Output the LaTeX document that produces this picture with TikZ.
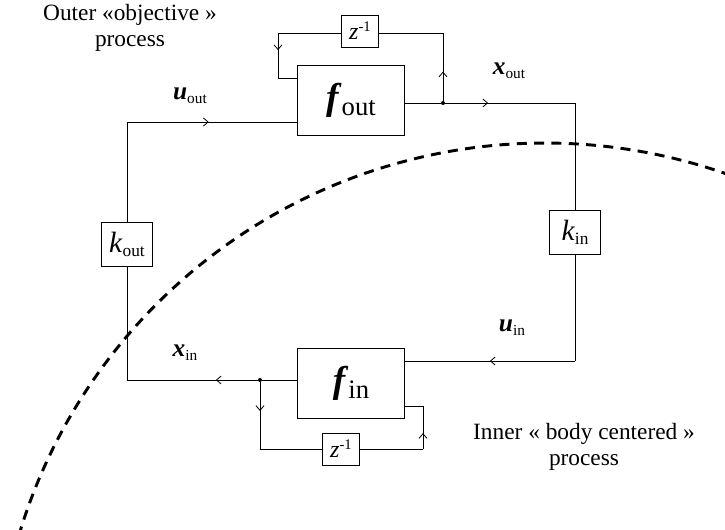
\documentclass[tikz,border=0pt]{standalone}
\usepackage{fontspec}
\setmainfont{Liberation Serif}
\usetikzlibrary{arrows.meta,calc,decorations.markings}
\newcommand{\lowsub}[2][3pt]{\raisebox{-#1}{#2}}
\newcommand{\bigsym}[2]{{\fontsize{28}{28}\selectfont\textbf{\textit{#1}}}%
  \lowsub[5pt]{\fontsize{20}{20}\selectfont #2}}
\newcommand{\sig}[2]{{\fontsize{19}{19}\selectfont\textbf{\textit{#1}}}%
  \lowsub{\fontsize{11.5}{11.5}\selectfont #2}}
\newcommand{\gain}[2]{{\fontsize{22}{22}\selectfont\textit{#1}}%
  \lowsub{\fontsize{13}{13}\selectfont #2}}
\newcommand{\delay}{{\fontsize{18}{18}\selectfont\textit{z}}%
  \raisebox{6pt}{\fontsize{11}{11}\selectfont -1}}
\tikzset{
  block/.style={draw,line width=0.6pt,inner sep=0pt},
  big block/.style={block,minimum width=80pt,minimum height=52.5pt},
  gain block/.style={block,minimum width=38pt,minimum height=33pt},
  delay block/.style={block,minimum width=28pt,minimum height=24pt},
  signal/.style={line width=0.6pt},
  flow at/.style={signal,postaction={decorate},decoration={markings,
    mark=at position #1 with {\arrow{Straight Barb[length=3.5pt,width=6pt]}}}},
  junction/.style={circle,fill,inner sep=0pt,minimum size=3pt},
  process label/.style={align=center,font=\fontsize{17.5}{19}\selectfont},
  boundary/.style={dash pattern=on 7.5pt off 5.5pt,line width=2.2pt},
}
\begin{document}
\begin{tikzpicture}[x=0.75pt,y=-0.75pt]
  \useasboundingbox (0,0) rectangle (725,529);

  % Blocks
  \node[big block] (fout) at (351,100) {\bigsym{f}{out}};
  \node[big block] (fin) at (351,383) {\bigsym{f}{in}};
  \node[delay block] (zout) at (360,31) {\delay};
  \node[delay block] (zin) at (341,449) {\delay};
  \node[gain block] (kout) at (127,244) {\gain{k}{out}};
  \node[gain block] (kin) at (575,232) {\gain{k}{in}};

  % Corners and junctions
  \node[junction] (jout) at (443,103) {};
  \node[junction] (jin) at (260,380) {};
  \coordinate (cout) at (575,103);
  \coordinate (cin) at (575,361);
  \coordinate (cxin) at (127,380);
  \coordinate (cuout) at (127,122);
  \coordinate (ctr) at (443,33);
  \coordinate (ctl) at (278,33);
  \coordinate (cbl) at (278,78);
  \coordinate (clb) at (260,449);
  \coordinate (crb) at (423,449);
  \coordinate (crt) at (423,406);

  % Outer loop
  \draw[signal] (fout.east |- jout) -- (jout);
  \draw[flow at=0.33] (jout) -- (cout);
  \draw[signal] (cout) -- (kin.north);
  \draw[signal] (kin.south) -- (cin);
  \draw[flow at=0.5] (cin) -- (fin.east |- cin);
  \draw[signal] (fin.west |- jin) -- (jin);
  \draw[flow at=0.32] (jin) -- (cxin);
  \draw[signal] (cxin) -- (kout.south);
  \draw[signal] (kout.north) -- (cuout);
  \draw[flow at=0.48] (cuout) -- (fout.west |- cuout);

  % Delay loops
  \draw[flow at=0.43] (jout) -- (ctr);
  \draw[signal] (ctr) -- (zout.east |- ctr);
  \draw[signal] (zout.west |- ctl) -- (ctl);
  \draw[flow at=0.38] (ctl) -- (cbl);
  \draw[signal] (cbl) -- (fout.west |- cbl);
  \draw[flow at=0.43] (jin) -- (clb);
  \draw[signal] (clb) -- (zin.west);
  \draw[signal] (zin.east) -- (crb);
  \draw[flow at=0.37] (crb) -- (crt);
  \draw[signal] (crt) -- (fin.east |- crt);

  % Signal labels
  \node (uout) at (190,96) {\sig{u}{out}};
  \node (xout) at (509,71) {\sig{x}{out}};
  \node (xin) at (185,353) {\sig{x}{in}};
  \node (uin) at (512,328) {\sig{u}{in}};

  % Process labels and boundary
  \node[process label] (outer) at (130,28) {Outer «objective »\\process};
  \node[process label] (inner) at (584,447) {Inner « body centered »\\process};
  \coordinate (centre) at (545,692);
  \draw[boundary] (centre) ++(-163.5:549) arc[start angle=-163.5,end angle=-68.5,radius=549];
\end{tikzpicture}
\end{document}
